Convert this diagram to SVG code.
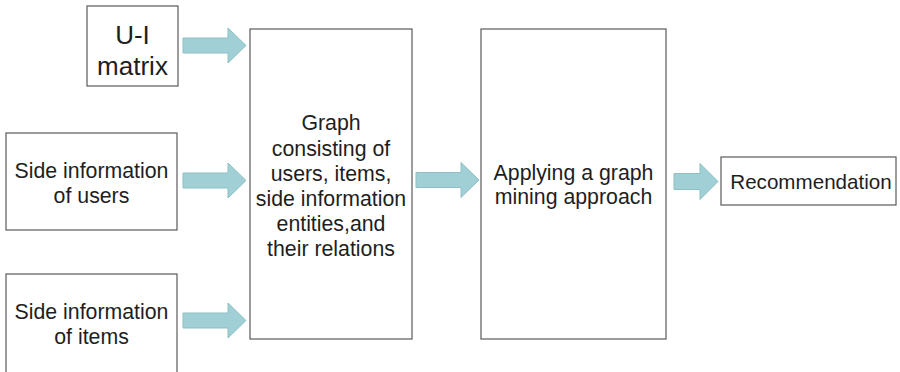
<svg xmlns="http://www.w3.org/2000/svg" width="900" height="372" viewBox="0 0 900 372">
  <style>
    .box { fill: #ffffff; stroke: #5a5a5a; stroke-width: 1.2; }
    .lbl { font-family: "Liberation Sans", Arial, sans-serif; font-size: 21.3px; fill: #1e1e1e; text-anchor: middle; }
    .big { font-size: 26px; }
    .rec { font-size: 20.6px; }
    .arrow { fill: #a0d0d5; stroke: #8dbfc4; stroke-width: 1; }
  </style>
  <defs>
    <!-- block arrow, origin at left end of the shaft, vertical centre -->
    <path id="blockArrow" d="M0,-7.5 H45 V-17.5 L63,0 L45,17.5 V7.5 H0 Z"/>
    <path id="shortArrow" d="M0,-8 H26 V-18 L44,0 L26,18 V8 H0 Z"/>
  </defs>
  <rect width="900" height="372" fill="#ffffff"/>

  <g id="connectors">
    <use href="#blockArrow" class="arrow" transform="translate(183,45.5)"/>
    <use href="#blockArrow" class="arrow" transform="translate(183,180.5)"/>
    <use href="#blockArrow" class="arrow" transform="translate(183,320.5)"/>
    <use href="#blockArrow" class="arrow" transform="translate(416,180)"/>
    <use href="#shortArrow" class="arrow" transform="translate(674,181.5)"/>
  </g>

  <g id="ui-matrix">
    <rect class="box" x="87" y="6" width="91" height="80"/>
    <text class="lbl big" x="132.5" y="44">U-I</text>
    <text class="lbl big" x="132.5" y="75">matrix</text>
  </g>

  <g id="side-users">
    <rect class="box" x="6" y="133" width="171" height="97"/>
    <text class="lbl" x="91.5" y="178">Side information</text>
    <text class="lbl" x="91.5" y="203">of users</text>
  </g>

  <g id="side-items">
    <rect class="box" x="6" y="274" width="171" height="110"/>
    <text class="lbl" x="91.5" y="319">Side information</text>
    <text class="lbl" x="91.5" y="344">of items</text>
  </g>

  <g id="graph">
    <rect class="box" x="250" y="29" width="162" height="310"/>
    <text class="lbl" x="331" y="130">Graph</text>
    <text class="lbl" x="331" y="155.5">consisting of</text>
    <text class="lbl" x="331" y="181">users, items,</text>
    <text class="lbl" x="331" y="206">side information</text>
    <text class="lbl" x="331" y="231">entities,and</text>
    <text class="lbl" x="331" y="256">their relations</text>
  </g>

  <g id="mining">
    <rect class="box" x="481" y="29" width="185" height="310"/>
    <text class="lbl" x="573.5" y="180">Applying a graph</text>
    <text class="lbl" x="573.5" y="204">mining approach</text>
  </g>

  <g id="recommendation">
    <rect class="box" x="721" y="157" width="175" height="48"/>
    <text class="lbl rec" x="811" y="189">Recommendation</text>
  </g>
</svg>
